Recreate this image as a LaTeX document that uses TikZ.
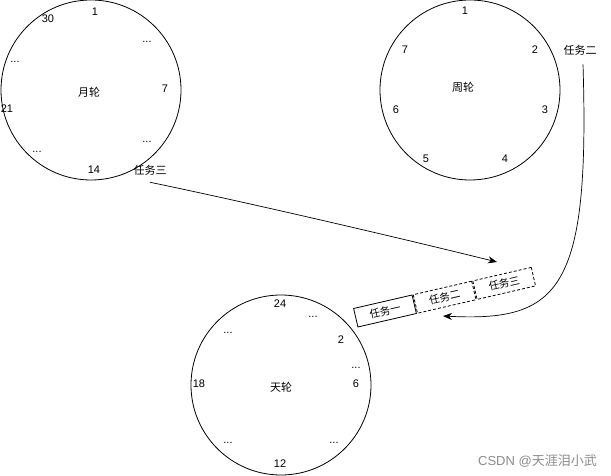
\documentclass[tikz,border=0pt]{standalone}
\usepackage{fontspec}
\setmainfont{Liberation Sans}
\newfontfamily\cjk{Noto Sans CJK SC}
\usetikzlibrary{arrows.meta}
\begin{document}
\begin{tikzpicture}[x=1pt,y=-1pt,
  wheel/.style={circle, draw, minimum size=180pt, inner sep=0pt, line width=0.8pt},
  lbl/.style={inner sep=0pt, font=\fontsize{11}{13}\selectfont},
  cn/.style={inner sep=0pt, font=\fontsize{11}{13}\selectfont\cjk},
  taskbox/.style={draw, line width=0.8pt, minimum width=60pt, minimum height=19pt, inner sep=0pt, rotate=13, font=\fontsize{10.5}{12}\selectfont\cjk},
  dtask/.style={taskbox, dash pattern=on 3pt off 2pt},
  conn/.style={-{Stealth[length=9pt,width=7pt]}, line width=0.7pt}]
\useasboundingbox (0,0) rectangle (611,476);
\fill[white] (0,0) rectangle (611,476);
% month wheel
\node[wheel] (month) at (91,90) {};
\node[cn] (mname) at (89,92) {月轮};
\node[lbl] (m1) at (95,12) {1};
\node[lbl] (m30) at (48,19) {30};
\node[lbl] (md1) at (147,42) {...};
\node[lbl] (md2) at (15,62) {...};
\node[lbl] (m7) at (165,89) {7};
\node[lbl] (m21) at (7,109) {21};
\node[lbl] (md3) at (147,142) {...};
\node[lbl] (md4) at (37,152) {...};
\node[lbl] (m14) at (94,170) {14};
\node[cn] (t3) at (150,170) {任务三};
% week wheel
\node[wheel] (week) at (470,90) {};
\node[cn] (wname) at (463,87) {周轮};
\node[lbl] (w1) at (465,11) {1};
\node[lbl] (w7) at (405,50) {7};
\node[lbl] (w2) at (535,50) {2};
\node[lbl] (w6) at (396,110) {6};
\node[lbl] (w3) at (545,110) {3};
\node[lbl] (w5) at (426,159) {5};
\node[lbl] (w4) at (505,159) {4};
\node[cn] (t2) at (580,50) {任务二};
% day wheel
\node[wheel] (day) at (281,385) {};
\node[cn] (dname) at (281,387) {天轮};
\node[lbl] (d24) at (280,304) {24};
\node[lbl] (dd1) at (313,317) {...};
\node[lbl] (dd2) at (228,333) {...};
\node[lbl] (d2) at (341,340) {2};
\node[lbl] (dd3) at (356,368) {...};
\node[lbl] (d18) at (199,384) {18};
\node[lbl] (d6) at (356,384) {6};
\node[lbl] (dd4) at (228,443) {...};
\node[lbl] (dd5) at (334,443) {...};
\node[lbl] (d12) at (280,464) {12};
% task boxes
\node[taskbox] (b1) at (385,311) {任务一};
\node[dtask] (b2) at (444.6,297.2) {任务二};
\node[dtask] (b3) at (504.2,283.4) {任务三};
% connectors
\coordinate (e1) at (497,262);
\coordinate (e2) at (443,316);
\draw[conn] (t3.south) ++(0,7) .. controls (250,203) and (400,238) .. (e1);
\draw[conn] (t2.south) ++(3,9) .. controls (590,290) and (560,322) .. (e2);
% watermark
\node[inner sep=0pt, text=black!45, font=\fontsize{13}{15}\selectfont, anchor=east] (wm) at (597,461) {CSDN @{\cjk 天涯泪小武}};
\end{tikzpicture}
\end{document}
